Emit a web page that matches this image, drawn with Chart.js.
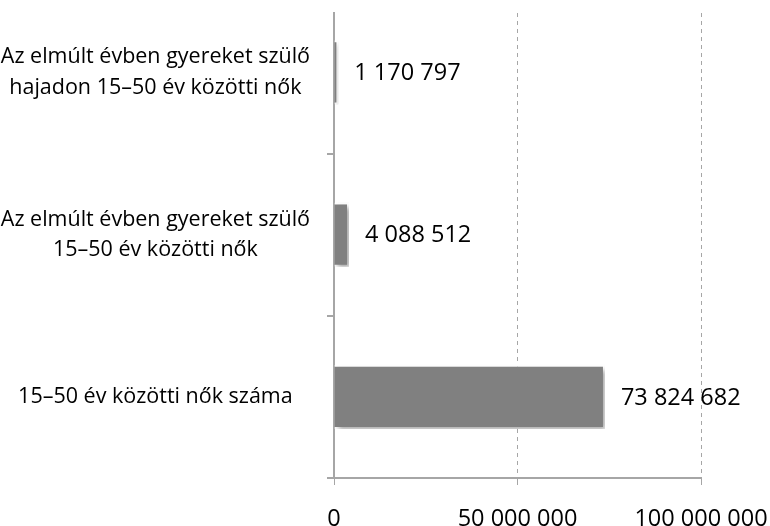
<!DOCTYPE html>
<html>
<head>
<meta charset="utf-8">
<script src="https://cdn.jsdelivr.net/npm/chart.js@4/dist/chart.umd.min.js"></script>
<style>
  html, body { margin: 0; padding: 0; background: #fff; }
  #wrap { width: 770px; height: 526px; position: relative; }
</style>
</head>
<body>
<div id="wrap"><canvas id="chart"></canvas></div>
<script>
const categories = [
  ["Az elmúlt évben gyereket szülő", "hajadon 15–50 év közötti nők"],
  ["Az elmúlt évben gyereket szülő", "15–50 év közötti nők"],
  "15–50 év közötti nők száma",
];
const values = [1170797, 4088512, 73824682];
const xTicks = [0, 50000000, 100000000];

const fmt = (v) => String(v).replace(/\B(?=(\d{3})+(?!\d))/g, " ");
const FONT = "'Open Sans', 'Noto Sans', sans-serif";
const AXIS = "#a6a6a6";

const shadowPlugin = {
  id: "barShadow",
  beforeDatasetsDraw(chart) {
    const ctx = chart.ctx;
    ctx.save();
    ctx.shadowColor = "rgba(0, 0, 0, 0.35)";
    ctx.shadowBlur = 5;
    ctx.shadowOffsetX = 3;
    ctx.shadowOffsetY = 3;
  },
  afterDatasetsDraw(chart) {
    chart.ctx.restore();
  },
};

const valueLabels = {
  id: "valueLabels",
  afterDraw(chart) {
    const ctx = chart.ctx;
    const meta = chart.getDatasetMeta(0);
    ctx.save();
    ctx.font = "23.5px " + FONT;
    ctx.fillStyle = "#000";
    ctx.textAlign = "left";
    ctx.textBaseline = "middle";
    meta.data.forEach((bar, i) => {
      ctx.fillText(fmt(values[i]), bar.x + 16, bar.y + 1);
    });
    ctx.restore();
  },
};

new Chart(document.getElementById("chart"), {
  type: "bar",
  data: {
    datasets: [
      {
        data: values.map((v, i) => ({ x: v, y: i })),
        backgroundColor: "#808080",
        borderColor: "#ffffff",
        borderWidth: 2,
        borderSkipped: "left",
        barPercentage: 0.79,
        categoryPercentage: 1,
      },
    ],
  },
  options: {
    indexAxis: "y",
    responsive: true,
    maintainAspectRatio: false,
    animation: false,
    layout: { padding: { top: 13, right: 69, left: 0, bottom: 0 } },
    plugins: {
      legend: { display: false },
      tooltip: { enabled: false },
    },
    scales: {
      x: {
        type: "linear",
        min: 0,
        max: 100000000,
        afterBuildTicks: (scale) => {
          scale.ticks = xTicks.map((v) => ({ value: v }));
        },
        afterFit: (scale) => {
          scale.height = 48;
          scale.paddingLeft = 0;
          scale.paddingRight = 0;
        },
        grid: {
          color: (c) => (c.tick && c.tick.value === 0 ? "rgba(0,0,0,0)" : AXIS),
          tickColor: AXIS,
          lineWidth: 1,
          tickLength: 7,
        },
        border: { display: true, color: AXIS, width: 2, dash: [4, 4] },
        ticks: {
          color: "#000",
          font: { family: FONT, size: 23.5 },
          padding: 20,
          maxRotation: 0,
          callback: (v) => fmt(v),
        },
      },
      y: {
        type: "linear",
        reverse: true,
        offset: false,
        min: -0.366,
        max: 2.5,
        afterBuildTicks: (scale) => {
          scale.ticks = [0, 0.5, 1, 1.5, 2, 2.5].map((v) => ({ value: v }));
        },
        afterFit: (scale) => {
          scale.width = 334;
          scale.paddingTop = 0;
          scale.paddingBottom = 0;
        },
        grid: {
          offset: false,
          drawOnChartArea: false,
          color: (c) => (c.tick && Number.isInteger(c.tick.value) ? "rgba(0,0,0,0)" : AXIS),
          tickLength: 7,
          lineWidth: 2,
        },
        border: { display: true, color: AXIS, width: 2 },
        ticks: {
          autoSkip: false,
          color: "#000",
          crossAlign: "center",
          padding: 17,
          font: { family: FONT, size: 21.5, lineHeight: 1.4 },
          callback: (v) => (Number.isInteger(v) ? categories[v] : ""),
        },
      },
    },
  },
  plugins: [shadowPlugin, valueLabels],
});
</script>
</body>
</html>
